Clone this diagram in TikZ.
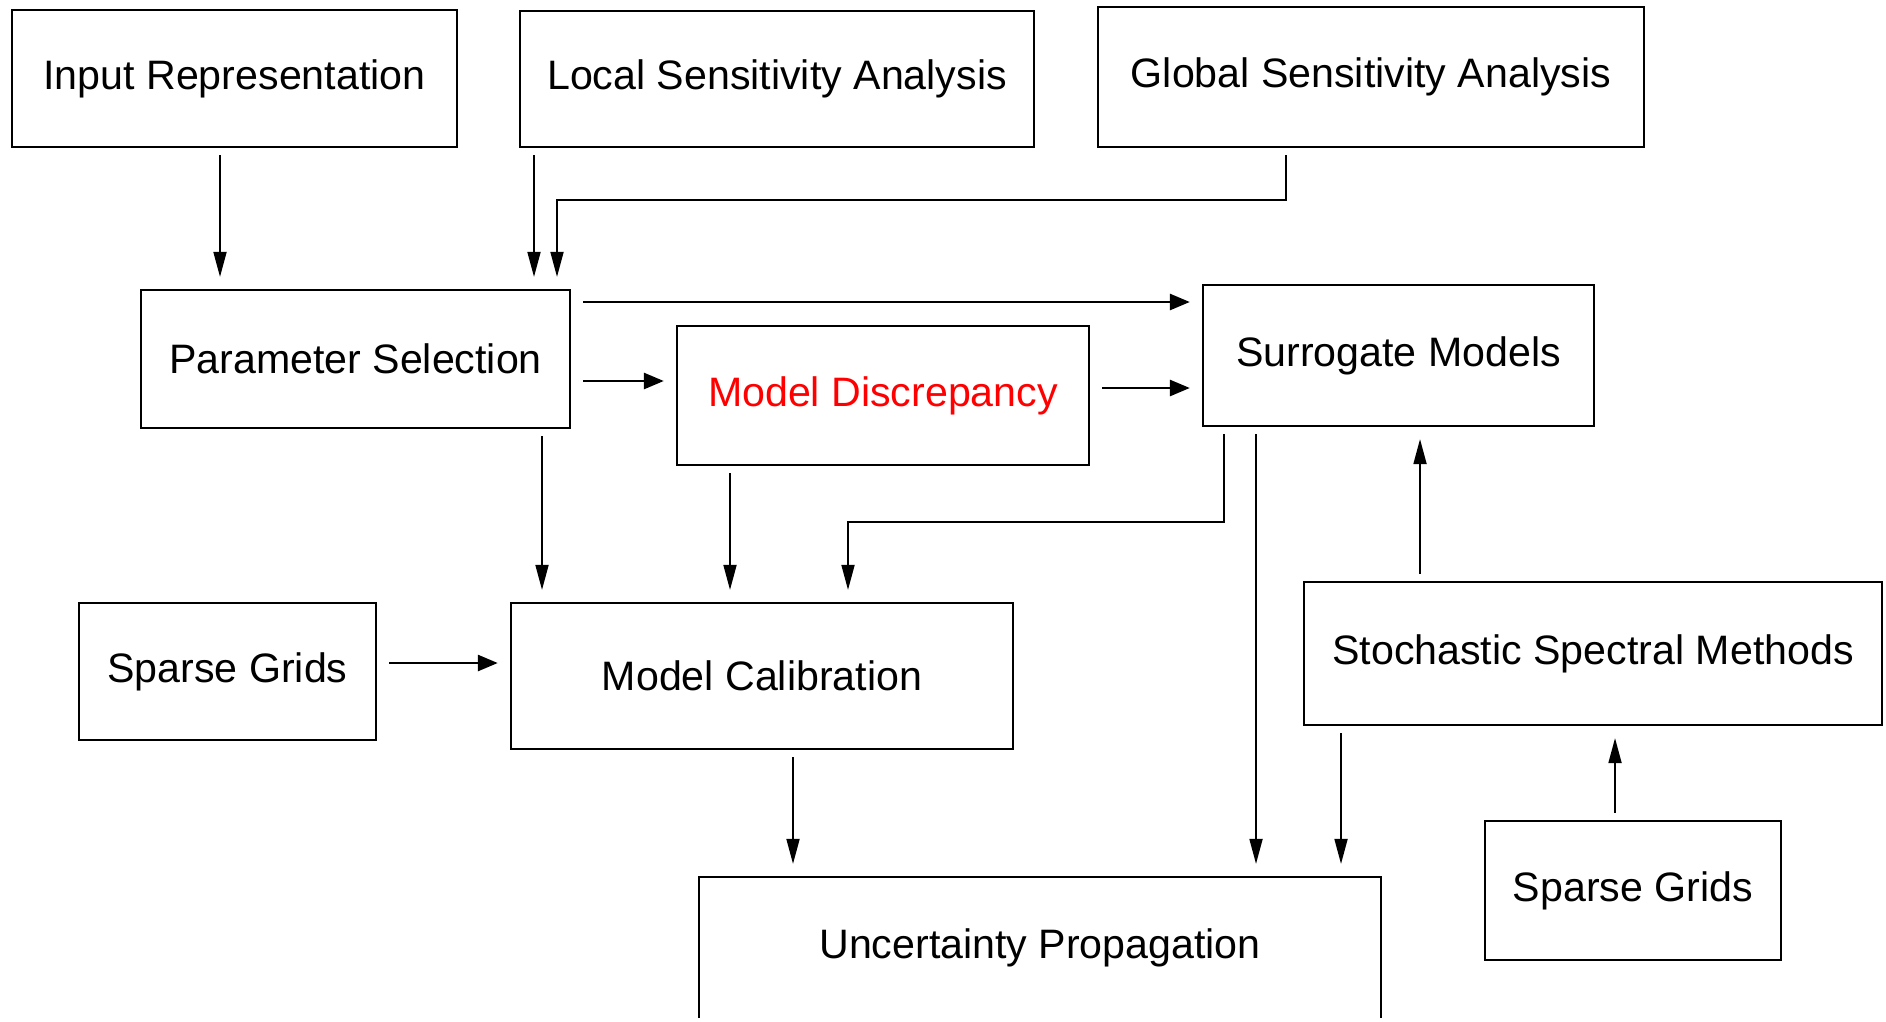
\documentclass[tikz,border=0pt]{standalone}
\usepackage{fontspec}
\setmainfont{Liberation Sans}
\usetikzlibrary{arrows.meta}

\tikzset{
  box/.style={draw, line width=0.6pt, inner sep=0pt, align=center,
              font=\fontsize{11.7}{14}\selectfont},
  varrow/.style={-{Triangle[length=0.25cm,width=0.13cm]}, line width=0.5pt,
                 shorten <=0.07cm, shorten >=0.12cm},
  harrow/.style={-{Triangle[length=0.2cm,width=0.16cm]}, line width=0.8pt,
                 shorten <=0.12cm, shorten >=0.12cm}
}

\begin{document}
\begin{tikzpicture}[x=0.01cm, y=-0.01cm]
\useasboundingbox (0,0) rectangle (1886,1021);
\clip (0,0) rectangle (1886,1017);

% top row
\node[box, minimum width=4.45cm, minimum height=1.37cm] (inp) at (234.5,78.5) {Input Representation};
\node[box, minimum width=5.14cm, minimum height=1.36cm] (lsa) at (777,79) {Local Sensitivity Analysis};
\node[box, minimum width=5.46cm, minimum height=1.40cm] (gsa) at (1371,77) {Global Sensitivity Analysis};

% second row
\node[box, minimum width=4.29cm, minimum height=1.38cm] (par) at (355.5,359) {Parameter Selection};
\node[box, minimum width=4.12cm, minimum height=1.39cm, text=red] (disc) at (883,395.5) {Model Discrepancy};
\node[box, minimum width=3.91cm, minimum height=1.41cm] (sur) at (1398.5,355.5) {Surrogate Models};

% third row
\node[box, minimum width=2.97cm, minimum height=1.37cm] (sgl) at (227.5,671.5) {Sparse Grids};
\node[box, minimum width=5.02cm, minimum height=1.46cm] (cal) at (762,676) {Model Calibration};
\node[box, minimum width=5.78cm, minimum height=1.43cm] (ssm) at (1593,653.5) {Stochastic Spectral Methods};

% bottom row
\node[box, minimum width=6.82cm, minimum height=1.42cm] (unc) at (1040,948) {Uncertainty Propagation};
\node[box, minimum width=2.96cm, minimum height=1.39cm] (sgr) at (1633,890.5) {Sparse Grids};

% arrows
\draw[varrow] (inp.south -| 220,0) -- (par.north -| 220,0);
\draw[varrow] (lsa.south -| 534,0) -- (par.north -| 534,0);
\draw[varrow] (gsa.south -| 1286,0) |- (557,200) -- (par.north -| 557,0);

\draw[harrow] (par.east |- 0,302) -- (sur.west |- 0,302);
\draw[harrow] (par.east |- 0,381) -- (disc.west |- 0,381);
\draw[harrow] (disc.east |- 0,388) -- (sur.west |- 0,388);

\draw[varrow] (par.south -| 542,0) -- (cal.north -| 542,0);
\draw[varrow] (disc.south -| 730,0) -- (cal.north -| 730,0);
\draw[varrow] (sur.south -| 1224,0) |- (848,522) -- (cal.north -| 848,0);
\draw[varrow] (sur.south -| 1256,0) -- (unc.north -| 1256,0);

\draw[varrow] (ssm.north -| 1420,0) -- (sur.south -| 1420,0);
\draw[varrow] (ssm.south -| 1341,0) -- (unc.north -| 1341,0);
\draw[varrow] (sgr.north -| 1615,0) -- (ssm.south -| 1615,0);

\draw[harrow] (sgl.east |- 0,663) -- (cal.west |- 0,663);
\draw[varrow] (cal.south -| 793,0) -- (unc.north -| 793,0);
\end{tikzpicture}
\end{document}
